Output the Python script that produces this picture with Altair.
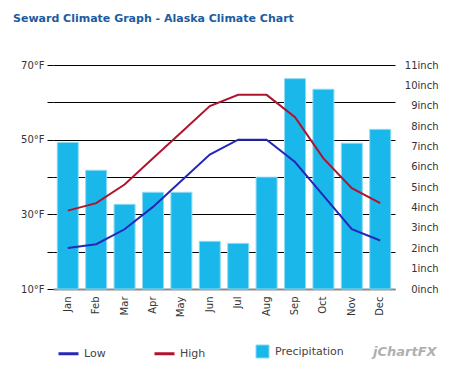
import altair as alt
import pandas as pd

months = ["Jan", "Feb", "Mar", "Apr", "May", "Jun", "Jul", "Aug", "Sep", "Oct", "Nov", "Dec"]
low_f = [21, 22, 26, 32, 39, 46, 50, 50, 44, 35, 26, 23]
high_f = [31, 33, 38, 45, 52, 59, 62, 62, 56, 45, 37, 33]
precip_in = [7.2, 5.83, 4.16, 4.75, 4.75, 2.34, 2.24, 5.49, 10.33, 9.81, 7.16, 7.84]
temp_ticks = [10, 20, 30, 40, 50, 60, 70]
inch_ticks = list(range(12))

FONT = "DejaVu Sans"

bars_df = pd.DataFrame({"month": months, "precip": precip_in, "kind": ["Precipitation"] * 12})
lines_df = pd.DataFrame({
    "month": months * 2,
    "temp": low_f + high_f,
    "series": ["Low"] * 12 + ["High"] * 12,
})

x_enc = alt.X(
    "month:N", sort=months,
    scale=alt.Scale(paddingInner=0.26, paddingOuter=0.15),
    axis=alt.Axis(title=None, labelAngle=270, labelFont=FONT, labelFontSize=10,
                  labelColor="#333333", ticks=False, domainColor="#8c8c8c",
                  domainWidth=2, labelPadding=7, grid=False),
)

bars = alt.Chart(bars_df).mark_bar(stroke="#8fdaf3", strokeWidth=1).encode(
    x=x_enc,
    y=alt.Y("precip:Q", scale=alt.Scale(domain=[0, 11], nice=False, zero=True),
            axis=alt.Axis(orient="right", title=None, values=inch_ticks,
                          labelExpr="datum.value + 'inch'", ticks=False, domain=False,
                          grid=False, labelAlign="right", labelPadding=43,
                          labelFont=FONT, labelFontSize=10, labelColor="#333333")),
    fill=alt.Fill("kind:N", scale=alt.Scale(domain=["Precipitation"], range=["#1ab8ea"]),
                  legend=alt.Legend(title=None, orient="none", legendX=202, legendY=279,
                                    symbolType="square", symbolSize=170,
                                    symbolStrokeColor="#8fdaf3", symbolStrokeWidth=1,
                                    labelFont=FONT, labelFontSize=11, labelColor="#444444",
                                    labelOffset=5)),
)

lines = alt.Chart(lines_df).mark_line(strokeWidth=2).encode(
    x=alt.X("month:N", sort=months),
    y=alt.Y("temp:Q", scale=alt.Scale(domain=[10, 70], nice=False, zero=False),
            axis=alt.Axis(orient="left", title=None, values=temp_ticks,
                          labelExpr="datum.value % 20 == 10 ? datum.value + '°F' : ''",
                          tickSize=6, tickColor="#000000", gridColor="#000000",
                          gridWidth=1, grid=True, domain=False, labelPadding=3,
                          labelFont=FONT, labelFontSize=10, labelColor="#333333")),
    color=alt.Color("series:N",
                    scale=alt.Scale(domain=["Low", "High"], range=["#2626b8", "#b0132e"]),
                    legend=alt.Legend(title=None, orient="none", legendX=4, legendY=277,
                                      direction="horizontal", columns=2, columnPadding=42,
                                      symbolType="stroke", symbolSize=400,
                                      symbolStrokeWidth=3, labelFont=FONT,
                                      labelFontSize=11, labelColor="#444444", labelOffset=4)),
)

brand = alt.Chart(pd.DataFrame({"t": ["jChartFX"]})).mark_text(
    font=FONT, fontSize=13, fontStyle="italic", fontWeight="bold", color="#b0b0b0",
    align="left", baseline="middle",
).encode(text="t:N", x=alt.value(320), y=alt.value(287))

chart = alt.layer(bars, lines, brand).resolve_scale(y="independent").properties(
    width=342, height=224,
    autosize=alt.AutoSizeParams(type="none"),
    padding={"left": 45, "top": 57, "right": 60, "bottom": 74},
    title=alt.TitleParams("Seward Climate Graph - Alaska Climate Chart", anchor="start",
                          frame="group", dx=-40, offset=36, fontSize=11, font=FONT,
                          fontWeight="bold", color="#1d5ca0"),
).configure_view(stroke=None)

chart.save("out.html", embed_options={"renderer": "svg", "actions": False})
